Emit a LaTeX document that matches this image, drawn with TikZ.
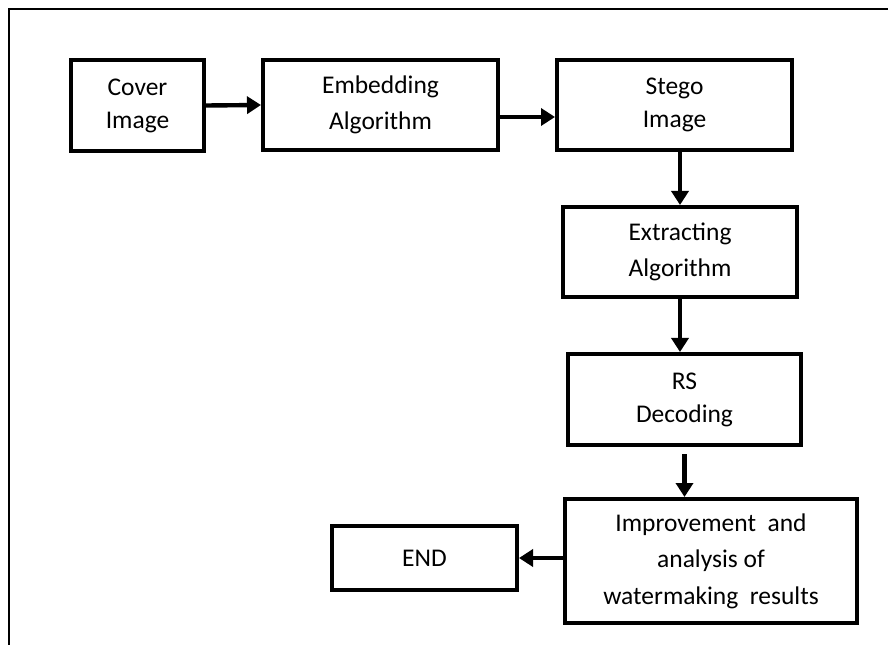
\documentclass[tikz,border=0pt]{standalone}
\usepackage{fontspec}
\setmainfont{Carlito}
\usepackage{tikz}
\usetikzlibrary{calc}
\usetikzlibrary{arrows.meta}

\begin{document}
\begin{tikzpicture}[x=0.02cm,y=-0.02cm]
    \tikzset{block/.style={draw=black, line width=2.3pt, align=center, inner sep=0pt, font=\fontsize{14.5}{18.8}\selectfont},
             flow/.style={->, line width=2.5pt},
             >={Triangle[length=0.28cm,width=0.34cm]}}
    
    \useasboundingbox (0,0) rectangle (888,645);
    
    \coordinate (frame_corner) at (9,9);
    \coordinate (frame_right) at (888,9);
    \coordinate (frame_bottom) at (9,645);
    
    \coordinate (cover_pos) at (137.5,105.5);
    \coordinate (embed_pos) at (380.5,105);
    \coordinate (stego_pos) at (674.5,105);
    \coordinate (extract_pos) at (680,252);
    \coordinate (rs_pos) at (684.5,399.5);
    \coordinate (improve_pos) at (711,561);
    \coordinate (end_pos) at (424.5,558);
    
    %outer frame, only top and left side
    \draw [line width=1.4pt] (frame_right) -- (frame_corner) -- (frame_bottom);
    
    %top row
    \node[block, minimum width=2.66cm, minimum height=1.82cm] (cover) at (cover_pos) {Cover\\Image};
    \node[block, minimum width=4.70cm, minimum height=1.80cm] (embed) at (embed_pos) {Embedding\\[1.5pt]Algorithm};
    \node[block, minimum width=4.70cm, minimum height=1.80cm] (stego) at (stego_pos) {Stego\\Image};
    
    %right column
    \node[block, minimum width=4.68cm, minimum height=1.80cm] (extract) at (extract_pos) {Extracting\\[1.5pt]Algorithm};
    \node[block, minimum width=4.66cm, minimum height=1.82cm] (rs) at (rs_pos) {RS\\Decoding};
    \node[block, minimum width=5.84cm, minimum height=2.48cm] (improve) at (improve_pos) {Improvement~ and\\[2pt]analysis of\\[2pt]watermaking~ results};
    
    %end
    \node[block, minimum width=3.70cm, minimum height=1.28cm] (end) at (end_pos) {END};
    
    %arrows
    \draw [flow] (cover.east) -- (embed.west);
    \draw [flow] ([yshift=-0.24cm]embed.east) -- ([yshift=-0.24cm]stego.west);
    \draw [flow] (stego.south -| extract.north) -- (extract.north);
    \draw [flow] (extract.south) -- (extract.south |- rs.north);
    \draw [flow] ([yshift=-0.14cm]rs.south) -- (rs.south |- improve.north);
    \draw [flow] (improve.west |- end.east) -- (end.east);
\end{tikzpicture}
\end{document}
